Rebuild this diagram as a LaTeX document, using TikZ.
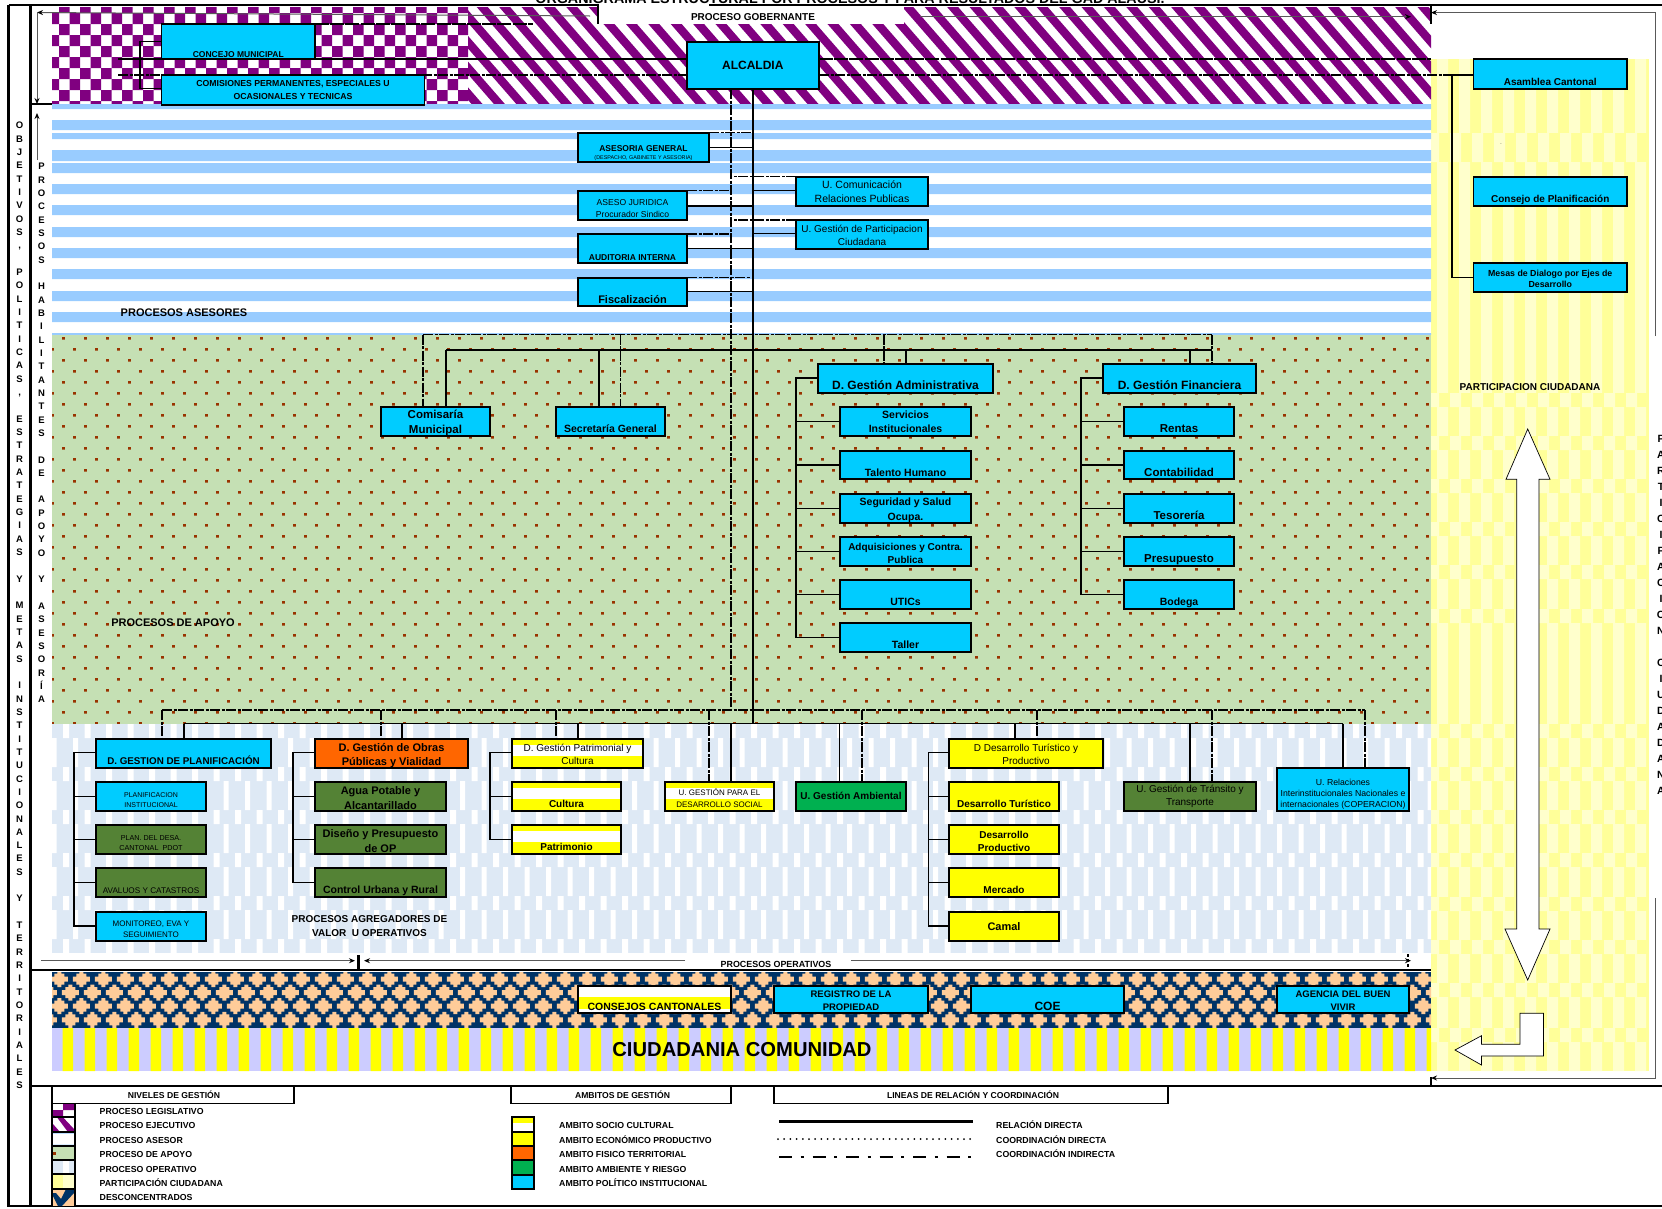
\documentclass[tikz,border=0pt]{standalone}
\usepackage{fontspec}
\setmainfont{Liberation Sans}
\usetikzlibrary{arrows.meta,calc}
\definecolor{purp}{HTML}{800080}
\definecolor{asblue}{HTML}{99CCFF}
\definecolor{apgreen}{HTML}{C5E0B4}
\definecolor{dotbr}{HTML}{993300}
\definecolor{opblue}{HTML}{DEE9F5}
\definecolor{pyel}{HTML}{FFFF99}
\definecolor{plight}{HTML}{FFFFCC}
\definecolor{navyd}{HTML}{003366}
\definecolor{peach}{HTML}{FFCC99}
\definecolor{lilac}{HTML}{CCCCFF}
\definecolor{cyanb}{HTML}{00CCFF}
\definecolor{orangeb}{HTML}{FF6600}
\definecolor{oliveb}{HTML}{548235}
\definecolor{greenb}{HTML}{00B050}
\definecolor{yel}{HTML}{FFFF00}
\newcommand\fz[2]{\fontsize{#1}{#2}\selectfont}
\newcommand\low[2]{\smash{\raisebox{-#1pt}{#2}}}
\newcommand\dw[1]{\rule{0pt}{\dimexpr\fontcharht\font`A+#1pt*2\relax}}
\newcommand\bx[7]{\node[box,#6,minimum width={#4-#2},minimum height={#5-#3}] (#1) at ({(#2+#4)/2},{(#3+#5)/2}) {#7};}
\newcommand\vl[4]{\draw[#1] (#3 -| #2,0) -- (#4.north -| #2,0);}
\newcommand\br[3]{\draw[rel] (#2 |- #3.west) -- (#3.west);}
\tikzset{
 box/.style={draw=black,line width=1.8pt,inner sep=0pt,outer sep=0pt,align=center,text=black},
 cy/.style={fill=cyanb}, ol/.style={fill=oliveb}, ye/.style={fill=yel}, orb/.style={fill=orangeb}, gr/.style={fill=greenb},
 socio/.style={fill=yel,path picture={\fill[white] ($(path picture bounding box.north west)!.2!(path picture bounding box.south west)$) rectangle ($(path picture bounding box.north east)!.59!(path picture bounding box.south east)$);}},
 conses/.style={fill=white,path picture={\fill[yel] ($(path picture bounding box.north west)!.42!(path picture bounding box.south west)$) rectangle ($(path picture bounding box.north east)!.84!(path picture bounding box.south east)$);}},
 rel/.style={draw=black,line width=1.5pt},
 cind/.style={draw=black,line width=1.5pt,dash pattern=on 10pt off 1.5pt on 3pt off 1.5pt},
 cdir/.style={draw=black,line width=1.5pt,dash pattern=on 14pt off 1.2pt},
 thinar/.style={draw=black!65,line width=1pt},
 bd/.style={draw=black,line width=2.6pt},
 lbl/.style={inner sep=0pt,outer sep=0pt,align=center,text=black},
 leg/.style={inner sep=0pt,anchor=west,font=\fz{8.75}{10}\bfseries},
 vert/.style={inner sep=0pt,align=center,anchor=north,font=\fz{9.5}{13.33}\bfseries},
 swatch/.style={draw=black,line width=1.8pt},
 bigarrow/.style={draw=black,line width=.7pt,fill=white}
}
\begin{document}
\begin{tikzpicture}[x=1pt,y=-1pt]
\useasboundingbox (0,0) rectangle (1662,1208);
% ---------- yellow participation band
\begin{scope}
\clip (1431,59) rectangle (1649,1071);
\fill[pyel] (1431,59) rectangle (1649,1071);
\fill[plight] \foreach \k in {0,...,9} {({1437+22*\k},59) rectangle ++(11,1012)};
\foreach \yy/\hh in {133/29,393/14,436/14,479/14,522/14,565/14,609/14,724/14,767/14,810/14,853/14,897/14,940/14,983/14,1028/14}{
 \fill[pyel] (1431,\yy) rectangle (1649,\yy+\hh);
 \fill[plight] \foreach \k in {0,...,9} {({1428+22*\k},\yy) rectangle ++(11,\hh)};
}
\end{scope}
% ---------- legislative checker / executive stripes
\begin{scope}
\clip (52,7) rectangle (468,104);
\fill[purp] \foreach \j in {0,2,4,6,8} {\foreach \i in {0,...,19} {({458-21*\i},{2+11*\j}) rectangle ++(10.5,11)}};
\fill[purp] \foreach \j in {1,3,5,7,9} {\foreach \i in {0,...,19} {({447.5-21*\i},{2+11*\j}) rectangle ++(10.5,11)}};
\end{scope}
\begin{scope}
\clip (468,7) rectangle (1431,104);
\fill[purp] \foreach \k in {-5,...,44} {({470+22.4*\k-15.7},7) -- ({481+22.4*\k-15.7},7) -- ({481+22.4*\k+68.7},104) -- ({470+22.4*\k+68.7},104) -- cycle};
\end{scope}
\fill[white] (598,6) rectangle (904,24);
% ---------- advisory stripes
\fill[asblue] \foreach \a/\b in {104/109,120/130,133/139,150/161,163/173,184/194,205/215,227/237,248/258,269/279,291/301,312/322,333/335} {(52,\a) rectangle (1431,\b)};
% ---------- support band
\fill[apgreen] (52,335) rectangle (1431,724);
\begin{scope}
\clip (52,335) rectangle (1431,724);
\fill[dotbr] \foreach \r in {0,2,...,34} {\foreach \k in {0,...,62} {({62+22*\k},{337+11*\r}) rectangle ++(2.8,2.6)}};
\fill[dotbr] \foreach \r in {1,3,...,35} {\foreach \k in {-1,...,62} {({73+22*\k},{337+11*\r}) rectangle ++(2.8,2.6)}};
\end{scope}
% ---------- operative band
\fill[opblue] (52,724) rectangle (1431,953);
\begin{scope}
\clip (52,724) rectangle (1431,953);
\foreach \n in {0,...,5}{
 \fill[white] \foreach \k in {0,...,63} {({63+21.5*\k},{724+43*\n}) rectangle ++(6,14)};
 \fill[white] \foreach \k in {-1,...,63} {({73+21.5*\k},{738+43*\n}) rectangle ++(5,29)};
}
\end{scope}
% ---------- deconcentrated band
\fill[navyd] (52,972) rectangle (1431,1028);
\begin{scope}
\clip (52,972) rectangle (1431,1028);
\foreach \r/\o in {0/0,1/11,2/0,3/11}{
 \fill[peach] \foreach \k in {-1,...,63} {
  [shift={({59.3+\o+22*\k},{979+13.6*\r})}]
  (-2,-8) -- (2,-8) -- (2,-5.5) -- (5,-5.5) -- (5,-2.5) -- (8.5,-2.5) -- (8.5,2.5) -- (5,2.5) -- (5,5.5) -- (2,5.5) -- (2,8) -- (-2,8) -- (-2,5.5) -- (-5,5.5) -- (-5,2.5) -- (-8.5,2.5) -- (-8.5,-2.5) -- (-5,-2.5) -- (-5,-5.5) -- (-2,-5.5) -- cycle};
}
\end{scope}
% ---------- citizen band
\begin{scope}
\clip (52,1028) rectangle (1431,1071);
\fill[lilac] (52,1028) rectangle (1431,1071);
\fill[yel] \foreach \k in {0,...,62} {({62.5+22*\k},1028) rectangle ++(10.5,43)};
\end{scope}
% ---------- big white arrows
\draw[bigarrow] (1527.7,429) -- (1550,479.3) -- (1539,479.3) -- (1539,929) -- (1550,929) -- (1527.7,980) -- (1505,929) -- (1516.7,929) -- (1516.7,479.3) -- (1506,479.3) -- cycle;
\draw[bigarrow] (1520,1013.3) -- (1543.5,1013.3) -- (1543.5,1056) -- (1481.5,1056) -- (1481.5,1065) -- (1455,1050) -- (1481.5,1035.7) -- (1481.5,1044.3) -- (1520,1044.3) -- cycle;
% ---------- frame
\draw[bd] (8.5,5) -- (8.5,1206) -- (1662,1206);
\draw[bd] (30.5,5) -- (30.5,1206);
\draw[bd] (8.5,5) -- (598,5) -- (598,24);
\draw[bd] (709,5) -- (1662,5);
\draw[bd] (1431,5) -- (1431,24);
\draw[bd] (30.5,104) -- (52,104);
\draw[bd] (30.5,970) -- (1431,970);
\draw[bd] (30.5,1086) -- (1662,1086);
\draw[bd] (1431,1077) -- (1431,1086);
% ---------- title and labels
\node[lbl,font=\fz{14.3}{16}\bfseries,anchor=base] (title) at (850,3) {ORGANIGRAMA ESTRUCTURAL POR PROCESOS Y PARA RESULTADOS DEL GAD ALAUSÍ.};
\node[lbl,font=\fz{10}{11}\bfseries] (lgob) at (753,17) {PROCESO GOBERNANTE};
\node[lbl,font=\fz{11}{12}\bfseries] (lases) at (184,313) {PROCESOS ASESORES};
\node[lbl,font=\fz{11}{12}\bfseries] (lapoyo) at (173,623) {PROCESOS DE APOYO};
\node[lbl,font=\fz{10}{14}\bfseries] (lagreg) at (369.5,926) {PROCESOS AGREGADORES DE\\VALOR\ \ U OPERATIVOS};
\node[lbl,font=\fz{10}{11}\bfseries] (lpart) at (1530,386.7) {PARTICIPACION CIUDADANA};
\node[lbl,font=\fz{8.9}{10}\bfseries] (loper) at (776,964) {PROCESOS OPERATIVOS};
\node[lbl,font=\fz{20.2}{24}\bfseries] (lciud) at (742,1050) {CIUDADANIA COMUNIDAD};
\node[lbl] (lpoint) at (1501,144) {\fz{5}{6}.};
\node[vert] (col1) at (19.6,122) {O\\B\\J\\E\\T\\I\\V\\O\\S\\,\\~\\P\\O\\L\\I\\T\\I\\C\\A\\S\\,\\~\\E\\S\\T\\R\\A\\T\\E\\G\\I\\A\\S\\~\\Y\\~\\M\\E\\T\\A\\S\\~\\I\\N\\S\\T\\I\\T\\U\\C\\I\\O\\N\\A\\L\\E\\S\\~\\Y\\~\\T\\E\\R\\R\\I\\T\\O\\R\\I\\A\\L\\E\\S};
\node[vert] (col2) at (41.5,163) {P\\R\\O\\C\\E\\S\\O\\S\\~\\H\\A\\B\\I\\L\\I\\T\\A\\N\\T\\E\\S\\~\\D\\E\\~\\A\\P\\O\\Y\\O\\~\\Y\\~\\A\\S\\E\\S\\O\\R\\Í\\A};
\node[vert,font=\fz{10.5}{16}\bfseries] (col3) at (1661,435.5) {P\\A\\R\\T\\I\\C\\I\\P\\A\\C\\I\\O\\N\\~\\C\\I\\U\\D\\A\\D\\A\\N\\A};
% ---------- boxes
\bx{concejo}{161.5}{24}{315}{59}{cy,font=\fz{8.5}{11}\bfseries}{\low{15.5}{CONCEJO MUNICIPAL}}
\bx{comis}{161.5}{75}{424.5}{105}{cy,font=\fz{8.7}{12.5}\bfseries}{COMISIONES PERMANENTES, ESPECIALES U\\OCASIONALES Y TECNICAS}
\bx{alcaldia}{686.6}{41.7}{819}{89}{cy,font=\fz{12}{14}\bfseries}{ALCALDIA}
\bx{aseg}{578}{132.7}{709}{162.3}{cy}{\low{11.5}{\shortstack{\fz{8.5}{10}\bfseries ASESORIA GENERAL\\[1pt]\fz{5.4}{7}\mdseries (DESPACHO, GABINETE Y ASESORIA)}}}
\bx{juri}{578}{190.7}{687}{220}{cy,font=\fz{8.6}{11.5}}{\dw{3}ASESO JURIDICA\\Procurador Sindico}
\bx{audi}{578}{234}{687}{263.3}{cy,font=\fz{8.5}{11}\bfseries}{\low{11.5}{AUDITORIA INTERNA}}
\bx{fisc}{578}{277.7}{687}{306}{cy,font=\fz{11}{13}\bfseries}{\low{11.5}{Fiscalización}}
\bx{ucom}{796}{176.7}{928}{206}{cy,font=\fz{10.5}{14}}{U. Comunicación\\Relaciones Publicas}
\bx{upar}{796}{220}{928}{249}{cy,font=\fz{10}{13}}{\dw{1}U. Gestión de Participacion\\Ciudadana}
\bx{asam}{1473.5}{59}{1627}{89}{cy,font=\fz{10}{12}\bfseries}{\low{11.5}{Asamblea Cantonal}}
\bx{cplan}{1473.5}{176.7}{1627}{206}{cy,font=\fz{10}{12}\bfseries}{\low{11.5}{Consejo de Planificación}}
\bx{mesas}{1473.5}{262.7}{1627}{292.3}{cy,font=\fz{8.8}{11}\bfseries}{\dw{2}Mesas de Dialogo por Ejes de\\Desarrollo}
\bx{comi}{381}{406.7}{490}{436}{cy,font=\fz{11.5}{15}\bfseries}{\dw{2}Comisaría\\Municipal}
\bx{secre}{556}{406.7}{665}{436}{cy,font=\fz{10.5}{12}\bfseries}{\low{11.5}{Secretaría General}}
\bx{dadm}{818}{363.7}{993}{393}{cy,font=\fz{12}{14}\bfseries}{\low{11.5}{D. Gestión Administrativa}}
\bx{dfin}{1103}{363.7}{1256}{393}{cy,font=\fz{12}{14}\bfseries}{\low{11.5}{D. Gestión Financiera}}
\bx{serv}{840}{406.7}{971}{436}{cy,font=\fz{10.5}{14}\bfseries}{\dw{1}Servicios\\Institucionales}
\bx{tale}{840}{451}{971}{479}{cy,font=\fz{10.5}{12}\bfseries}{\low{11.5}{Talento Humano}}
\bx{segu}{840}{493.7}{971}{523}{cy,font=\fz{10.5}{15}\bfseries}{\dw{2}Seguridad y Salud\\Ocupa.}
\bx{adqu}{840}{536.7}{971}{566}{cy,font=\fz{10}{13}\bfseries}{\dw{2}Adquisiciones y Contra.\\Publica}
\bx{utic}{840}{579.7}{971}{609}{cy,font=\fz{10.5}{12}\bfseries}{\low{11.5}{UTICs}}
\bx{tall}{840}{622.7}{971}{652}{cy,font=\fz{10.5}{12}\bfseries}{\low{11.5}{Taller}}
\bx{rent}{1124}{406.7}{1234}{436}{cy,font=\fz{11.5}{12}\bfseries}{\low{11.5}{Rentas}}
\bx{cont}{1124}{451}{1234}{479}{cy,font=\fz{11.5}{12}\bfseries}{\low{11.5}{Contabilidad}}
\bx{teso}{1124}{493.7}{1234}{523}{cy,font=\fz{11.5}{12}\bfseries}{\low{11.5}{Tesorería}}
\bx{pres}{1124}{536.7}{1234}{566}{cy,font=\fz{11.5}{12}\bfseries}{\low{11.5}{Presupuesto}}
\bx{bode}{1124}{579.7}{1234}{609}{cy,font=\fz{10.5}{12}\bfseries}{\low{11.5}{Bodega}}
% operative
\bx{dpla}{96}{738.7}{271}{768}{cy,font=\fz{9.8}{12}\bfseries}{\low{11.5}{D. GESTION DE PLANIFICACIÓN}}
\bx{ppla}{96}{781.7}{206}{811}{cy,font=\fz{7}{10}}{\dw{3.5}PLANIFICACION\\INSTITUCIONAL}
\bx{pdes}{96}{824.7}{206}{854}{ol,font=\fz{7.2}{10}}{\dw{3.5}PLAN. DEL DESA.\\CANTONAL\ \ PDOT}
\bx{aval}{96}{867.7}{206}{897}{ol,font=\fz{8.2}{10}}{\low{11.5}{AVALUOS Y CATASTROS}}
\bx{moni}{96}{911.7}{206}{940.7}{cy,font=\fz{8}{11}}{\dw{3}MONITOREO, EVA Y\\SEGUIMIENTO}
\bx{dobr}{315}{738.7}{468}{768}{orb,font=\fz{11}{14}\bfseries}{\dw{2}D. Gestión de Obras\\Públicas y Vialidad}
\bx{agua}{315}{781.7}{446}{811}{ol,font=\fz{11}{15}\bfseries}{\dw{1.5}Agua Potable y\\Alcantarillado}
\bx{dise}{315}{824.7}{446}{854}{ol,font=\fz{11}{14.5}\bfseries}{\dw{2}Diseño y Presupuesto\\de OP}
\bx{ctrl}{315}{867.7}{446}{897}{ol,font=\fz{10.5}{12}\bfseries}{\low{11.5}{Control Urbana y Rural}}
\bx{dpat}{512}{738.7}{643}{768}{socio,font=\fz{10}{13}}{\dw{1.5}D. Gestión Patrimonial y\\Cultura}
\bx{cult}{512}{781.7}{621}{811}{socio,font=\fz{10}{12}\bfseries}{\low{11.5}{Cultura}}
\bx{patr}{512}{824.7}{621}{854}{socio,font=\fz{10}{12}\bfseries}{\low{11.5}{Patrimonio}}
\bx{udes}{665}{781.7}{774}{811}{socio,font=\fz{8}{11.5}}{\dw{2.5}U. GESTIÓN PARA EL\\DESARROLLO SOCIAL}
\bx{uamb}{796}{781.7}{906}{811}{gr,font=\fz{10}{12}\bfseries}{U. Gestión Ambiental}
\bx{ddes}{949}{738.7}{1103}{768}{ye,font=\fz{10}{13}}{\dw{1.5}D Desarrollo Turístico y\\Productivo}
\bx{dtur}{949}{781.7}{1059}{811}{ye,font=\fz{10}{12}\bfseries}{\low{11.5}{Desarrollo Turístico}}
\bx{dpro}{949}{824.7}{1059}{854}{ye,font=\fz{10}{13}\bfseries}{\dw{2}Desarrollo\\Productivo}
\bx{merc}{949}{867.7}{1059}{897}{ye,font=\fz{10}{12}\bfseries}{\low{11.5}{Mercado}}
\bx{cama}{949}{911.7}{1059}{940.7}{ye,font=\fz{11}{12}\bfseries}{Camal}
\bx{utra}{1124}{781.7}{1256}{811}{ol,font=\fz{10}{13}}{U. Gestión de Tránsito y\\Transporte}
\bx{urel}{1277}{767.7}{1409}{811}{cy,font=\fz{8.7}{11}}{\dw{5.5}U. Relaciones\\Interinstitucionales Nacionales e\\internacionales (COPERACION)}
% deconcentrated
\bx{ccan}{578}{985.7}{731}{1013}{conses,font=\fz{10.5}{12}\bfseries}{\low{11}{CONSEJOS CANTONALES}}
\bx{regi}{774}{985.7}{928}{1013}{cy,font=\fz{9.5}{13}\bfseries}{\dw{1}REGISTRO DE LA\\PROPIEDAD}
\bx{coe}{971}{985.7}{1124}{1013}{cy,font=\fz{12}{12}\bfseries}{\low{11}{COE}}
\bx{agen}{1277}{985.7}{1409}{1013}{cy,font=\fz{9.5}{13}\bfseries}{\dw{1}AGENCIA DEL BUEN\\VIVIR}
% ---------- named helper coordinates
\coordinate (trS) at (753,0); \coordinate (trD) at (731,0); \coordinate (dE) at (750.6,0);
\coordinate (bA) at (0,334.7); \coordinate (bB) at (0,350); \coordinate (bC) at (0,710); \coordinate (bD) at (0,723.7);
\coordinate (pA) at (796,0); \coordinate (pF) at (1081,0); \coordinate (pP) at (74,0); \coordinate (pO) at (293,0); \coordinate (pC) at (490,0); \coordinate (pT) at (928.7,0);
\coordinate (eL) at (118,0); \coordinate (eR) at (1431,0); \coordinate (eM) at (1452,0); \coordinate (eK) at (140,0); \coordinate (eJ) at (533,0);
% ---------- legislative links
\draw[cdir] (concejo.north east) -- (eJ |- concejo.north east);
\draw[rel] (eL |- 0,59) -- (alcaldia.west |- 0,59);
\draw[cind] (eL |- 0,75) -- (alcaldia.west |- 0,75);
\draw[cdir] (alcaldia.east |- 0,59) -- (eR |- 0,59);
\draw[cind] (alcaldia.east |- 0,75) -- (eM |- 0,75);
\draw[rel] (concejo.west |- 0,41.7) -| (eK |- 0,88.7) -- (comis.west |- 0,88.7);
\draw[rel] (asam.west |- 0,75) -| (eM |- mesas.west) -- (mesas.west);
% ---------- trunks
\draw[rel] (alcaldia.south -| trS) -- (trS |- bD);
\draw[cind] (alcaldia.south -| trD) -- (trD |- bC);
% ---------- advisers
\draw[rel] (aseg.east |- 0,147.7) -- (trS |- 0,147.7);
\draw[cind] (aseg.north east) -- (dE |- aseg.north east);
\draw[rel] (juri.east |- 0,206) -- (trS |- 0,206);
\draw[cind] (juri.north east) -- (trD |- juri.north east);
\draw[rel] (audi.east |- 0,248.7) -- (trS |- 0,248.7);
\draw[cind] (audi.north east) -- (trD |- audi.north east);
\draw[rel] (fisc.east |- 0,291.7) -- (trS |- 0,291.7);
\draw[cind] (fisc.north east) -- (dE |- fisc.north east);
\draw[rel] (ucom.west |- 0,190.7) -- (trS |- 0,190.7);
\draw[cind] (ucom.north west) -- (trD |- ucom.north west);
\draw[rel] (upar.west |- 0,233.7) -- (trS |- 0,233.7);
\draw[cind] (upar.north west) -- (trD |- upar.north west);
% ---------- support buses
\draw[cind] (bA -| 423,0) -- (bA -| 1212,0);
\draw[rel] (bB -| 446,0) -- (bB -| 1212,0);
\vl{cind}{423}{bA}{comi}\vl{rel}{446}{bB}{comi}
\vl{rel}{599}{bB}{secre}\vl{cind}{620.6}{bA}{secre}
\vl{cind}{884}{bA}{dadm}\vl{rel}{906}{bB}{dadm}
\vl{rel}{1190}{bB}{dfin}\vl{cind}{1212}{bA}{dfin}
\draw[rel] (dadm.west |- 0,378) -| (pA |- tall.west) -- (tall.west);
\foreach \b in {serv,tale,segu,adqu,utic}{\br{x}{pA}{\b}}
\draw[rel] (dfin.west |- 0,378) -| (pF |- bode.west) -- (bode.west);
\foreach \b in {rent,cont,teso,pres}{\br{x}{pF}{\b}}
% ---------- operative buses
\draw[cind] (bC -| 162,0) -- (bC -| 1365,0);
\draw[rel] (bD -| 184,0) -- (bD -| 1343,0);
\vl{cind}{162}{bC}{dpla}\vl{rel}{184}{bD}{dpla}
\vl{cind}{381}{bC}{dobr}\vl{rel}{402}{bD}{dobr}
\vl{cind}{556}{bC}{dpat}\vl{rel}{578}{bD}{dpat}
\vl{cind}{709}{bC}{udes}\vl{rel}{731}{bD}{udes}
\vl{rel}{839.5}{bD}{uamb}\vl{cind}{862}{bC}{uamb}
\vl{rel}{1015}{bD}{ddes}\vl{cind}{1037}{bC}{ddes}
\vl{rel}{1190}{bD}{utra}\vl{cind}{1212}{bC}{utra}
\vl{rel}{1343}{bD}{urel}\vl{cind}{1365}{bC}{urel}
\draw[rel] (dpla.west |- 0,752.3) -| (pP |- moni.west) -- (moni.west);
\foreach \b in {ppla,pdes,aval}{\br{x}{pP}{\b}}
\draw[rel] (dobr.west |- 0,752.3) -| (pO |- ctrl.west) -- (ctrl.west);
\foreach \b in {agua,dise}{\br{x}{pO}{\b}}
\draw[rel] (dpat.west |- 0,752.3) -| (pC |- patr.west) -- (patr.west);
\br{x}{pC}{cult}
\draw[rel] (ddes.west |- 0,752.3) -| (pT |- cama.west) -- (cama.west);
\foreach \b in {dtur,dpro,merc}{\br{x}{pT}{\b}}
% ---------- thin arrows
\coordinate (a1) at (37,12.5); \coordinate (a2) at (590,16); \coordinate (a3) at (37,104); \coordinate (a4) at (37,113); \coordinate (a5) at (37,160);
\coordinate (a6) at (920,16.7); \coordinate (a7) at (1411,16.7); \coordinate (a8) at (1431,12.6); \coordinate (a9) at (1655,12.6); \coordinate (a10) at (1655,336);
\coordinate (a11) at (1655,898); \coordinate (a12) at (1655,1078); \coordinate (a13) at (1431,1078);
\coordinate (a14) at (41,960.7); \coordinate (a15) at (355,960.7); \coordinate (a16) at (685,960.7); \coordinate (a17) at (364,960.7); \coordinate (a18) at (851,960.7); \coordinate (a19) at (1411,960.7);
\draw[thinar,-{Stealth[length=6pt,width=5pt,black]}] (a2) -- (a1);
\draw[thinar,-{Stealth[length=6pt,width=5pt,black]}] (a1) -- (a3);
\draw[thinar,-{Stealth[length=6pt,width=5pt,black]}] (a5) -- (a4);
\draw[thinar,-{Stealth[length=6pt,width=5pt,black]}] (a6) -- (a7);
\draw[thinar,-{Stealth[length=6pt,width=5pt,black]}] (a10) -- (a9) -- (a8);
\draw[thinar,-{Stealth[length=6pt,width=5pt,black]}] (a11) -- (a12) -- (a13);
\draw[thinar,-{Stealth[length=6pt,width=5pt,black]}] (a14) -- (a15);
\draw[thinar,-{Stealth[length=6pt,width=5pt,black]}] (a16) -- (a17);
\draw[thinar,-{Stealth[length=6pt,width=5pt,black]}] (a18) -- (a19);
\draw[black,line width=2.2pt] (358.4,955) -- (358.4,970);
\draw[black,line width=2pt,dash pattern=on 3pt off 2pt] (1408,954) -- (1408,970);
% ---------- legend
\draw[swatch] (52,1086) -- (52,1103.5) -- (294,1103.5) -- (294,1086);
\draw[swatch] (511,1086) -- (511,1103.5) -- (731,1103.5) -- (731,1086);
\draw[swatch] (774,1086) -- (774,1103.5) -- (1168,1103.5) -- (1168,1086);
\node[lbl,font=\fz{8.6}{10}\bfseries] (h1) at (174,1095) {NIVELES DE GESTIÓN};
\node[lbl,font=\fz{8.6}{10}\bfseries] (h2) at (622.5,1095) {AMBITOS DE GESTIÓN};
\node[lbl,font=\fz{8.6}{10}\bfseries] (h3) at (973,1095) {LINEAS DE RELACIÓN Y COORDINACIÓN};
% level swatches
\fill[white] (53,1103.5) rectangle (74,1206);
\fill[purp] (63,1103.5) rectangle (74,1110) (53,1110) rectangle (63,1117);
\begin{scope}\clip (53,1117.3) rectangle (74,1131.7);
\fill[purp] (57,1117.3) -- (63,1117.3) -- (74,1129) -- (74,1132) -- (68,1132) -- cycle (53,1124) -- (60,1132) -- (53,1132) -- cycle;\end{scope}
\fill[asblue] (53,1131.7) rectangle (74,1133.5) (53,1144.5) rectangle (74,1146);
\fill[apgreen] (53,1146) rectangle (74,1160); \fill[dotbr] (53,1152) rectangle (55.5,1155);
\fill[opblue] (53,1160) rectangle (74,1174.3); \fill[white] (63,1160) rectangle (69,1174.3);
\fill[pyel] (53,1174.3) rectangle (63,1189); \fill[plight] (63,1174.3) rectangle (74,1189);
\fill[peach] (53,1189) rectangle (74,1206);
\fill[navyd] (66,1189) -- (74,1189) -- (74,1193) -- (62,1206) -- (58,1206) -- (53,1196) -- (53,1193) -- (56,1193) -- (61,1199) -- cycle;
\foreach \y in {1103.5,1117.3,1131.7,1146,1160,1174.3,1189}{\draw[black,line width=1.8pt] (52,\y) -- (75,\y);}
\draw[black,line width=1.8pt] (52,1103) -- (52,1206) (75,1103) -- (75,1206);
% scope swatches
\fill[yel] (512,1116.7) rectangle (534,1123); \fill[white] (512,1123) rectangle (534,1131.7);
\fill[yel] (512,1131.7) rectangle (534,1146);
\fill[orangeb] (512,1146) rectangle (534,1160.3);
\fill[greenb] (512,1160.3) rectangle (534,1174.7);
\fill[cyanb] (512,1174.7) rectangle (534,1189.3);
\draw[swatch] (512,1116.7) rectangle (534,1189.3);
\foreach \y in {1131.7,1146,1160.3,1174.7}{\draw[black,line width=1.8pt] (512,\y) -- (534,\y);}
% legend texts
\foreach \t/\y [count=\i] in {PROCESO LEGISLATIVO/1111,PROCESO EJECUTIVO/1125,PROCESO ASESOR/1140,PROCESO DE APOYO/1154,PROCESO OPERATIVO/1169,PARTICIPACIÓN CIUDADANA/1182.7,DESCONCENTRADOS/1197.7}{\node[leg] (ln\i) at (99.5,\y) {\t};}
\foreach \t/\y [count=\i] in {AMBITO SOCIO CULTURAL/1125,AMBITO ECONÓMICO PRODUCTIVO/1140,AMBITO FISICO TERRITORIAL/1154,AMBITO AMBIENTE Y RIESGO/1169,AMBITO POLÍTICO INSTITUCIONAL/1182.7}{\node[leg] (la\i) at (559,\y) {\t};}
\foreach \t/\y [count=\i] in {RELACIÓN DIRECTA/1124.3,COORDINACIÓN DIRECTA/1139.7,COORDINACIÓN INDIRECTA/1153.7}{\node[leg] (ll\i) at (996,\y) {\t};}
\coordinate (k1a) at (779,1121.3); \coordinate (k1b) at (973,1121.3);
\coordinate (k2a) at (778,1139); \coordinate (k2b) at (973,1139);
\coordinate (k3a) at (779,1157); \coordinate (k3b) at (973,1157);
\draw[black,line width=2.4pt] (k1a) -- (k1b);
\draw[black,line width=2pt,line cap=round,dash pattern=on 0pt off 6.2pt] (k2a) -- (k2b);
\draw[black,line width=2.2pt,dash pattern=on 13pt off 8.5pt on 3pt off 9pt] (k3a) -- (k3b);
\end{tikzpicture}
\end{document}
